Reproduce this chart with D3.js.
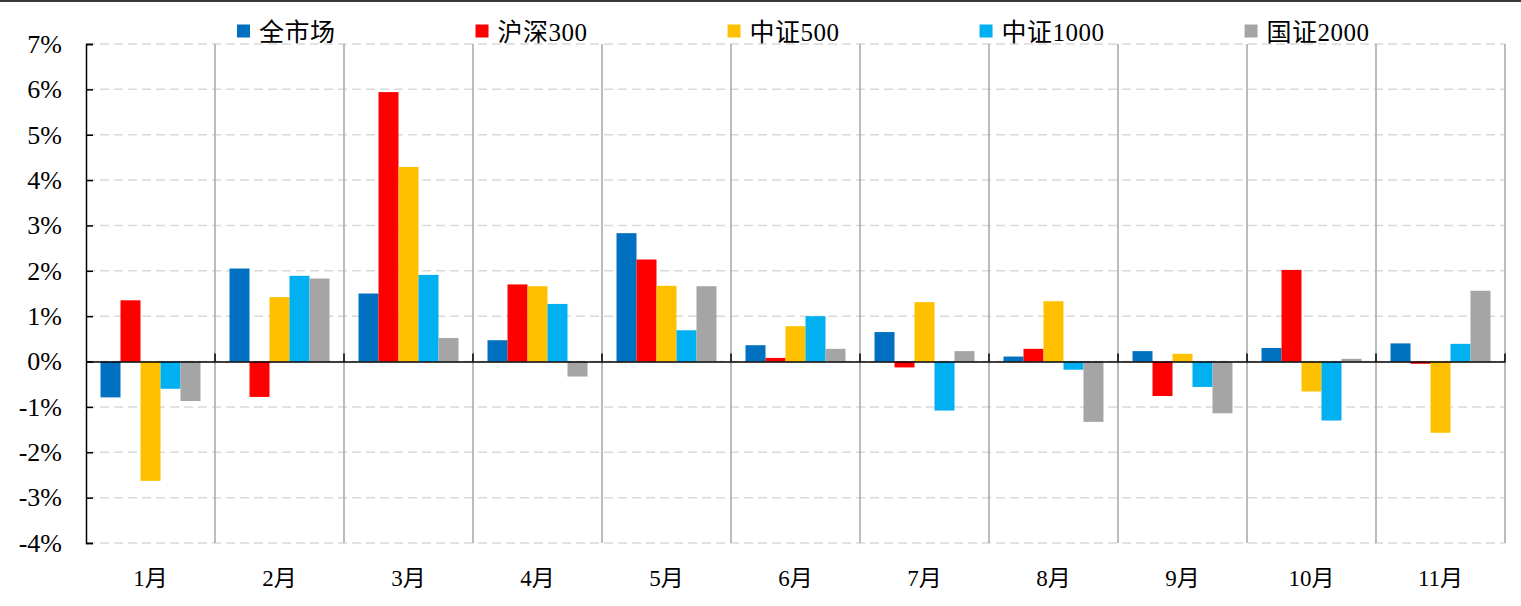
<!DOCTYPE html>
<html>
<head>
<meta charset="utf-8">
<script src="https://cdn.jsdelivr.net/npm/d3@7/dist/d3.min.js"></script>
<style>
html,body{margin:0;padding:0;background:#fff;}
svg{display:block;}
</style>
</head>
<body>
<svg id="chart" width="1521" height="606"></svg>
<script>
const months = ["1月","2月","3月","4月","5月","6月","7月","8月","9月","10月","11月"];
const seriesNames = ["全市场","沪深300","中证500","中证1000","国证2000"];
const seriesColors = ["#0070C0","#FF0000","#FFC000","#00B0F0","#A5A5A5"];
const allMarket = [-0.79, 2.05, 1.50, 0.47, 2.83, 0.36, 0.65, 0.11, 0.23, 0.30, 0.40];
const hs300     = [1.35, -0.78, 5.94, 1.70, 2.25, 0.08, -0.13, 0.28, -0.76, 2.02, -0.05];
const zz500     = [-2.63, 1.42, 4.29, 1.66, 1.67, 0.78, 1.31, 1.33, 0.17, -0.66, -1.57];
const zz1000    = [-0.60, 1.89, 1.91, 1.27, 0.69, 1.00, -1.08, -0.18, -0.56, -1.30, 0.39];
const gz2000    = [-0.87, 1.83, 0.52, -0.33, 1.66, 0.28, 0.23, -1.33, -1.14, 0.06, 1.56];
const yTicks = [-4,-3,-2,-1,0,1,2,3,4,5,6,7];

const seriesValues = [allMarket, hs300, zz500, zz1000, gz2000];

const svg = d3.select("#chart");
const W = 1521, H = 606;
const m = {left: 86, right: 16, top: 44, bottom: 63};
const plotW = W - m.left - m.right;
const yTop = m.top, yBot = H - m.bottom;

// top border line
svg.append("rect").attr("x",0).attr("y",0).attr("width",W).attr("height",2).attr("fill","#3a3a3a");

const x0 = d3.scaleBand().domain(months).range([m.left, m.left + plotW]).padding(0);
const bw = x0.bandwidth();
const groupW = bw * 0.775;
const x1 = d3.scaleBand().domain(seriesNames).range([(bw - groupW)/2, (bw + groupW)/2]).padding(0);
const y = d3.scaleLinear().domain([-4,7]).range([yBot, yTop]);

const serif = "'Liberation Serif','Times New Roman','Noto Sans CJK SC',serif";

// gridlines
svg.append("g").selectAll("line").data(yTicks).join("line")
  .attr("x1", m.left).attr("x2", m.left + plotW)
  .attr("y1", d => y(d)).attr("y2", d => y(d))
  .attr("stroke", "#d9d9d9").attr("stroke-width", 1.5).attr("stroke-dasharray", "9,5");

// category separators
const seps = months.map((d,i)=> x0(d) + bw);
svg.append("g").selectAll("line").data(seps).join("line")
  .attr("x1", d=>d).attr("x2", d=>d).attr("y1", yTop).attr("y2", yBot)
  .attr("stroke", "#a6a6a6").attr("stroke-width", 1.5);

// bars
const data = [];
months.forEach((mo,i)=>{
  seriesNames.forEach((s,j)=>{
    data.push({month: mo, series: s, value: seriesValues[j][i], color: seriesColors[j]});
  });
});
svg.append("g").selectAll("rect").data(data).join("rect")
  .attr("x", d => x0(d.month) + x1(d.series))
  .attr("width", x1.bandwidth())
  .attr("y", d => y(Math.max(0, d.value)))
  .attr("height", d => Math.abs(y(d.value) - y(0)))
  .attr("fill", d => d.color);

// y axis
const yAxis = d3.axisLeft(y).tickValues(yTicks).tickSize(-7).tickPadding(24).tickFormat(d => d + "%");
const gy = svg.append("g").attr("transform", `translate(${m.left},0)`).call(yAxis);
gy.select(".domain").attr("stroke","#000").attr("stroke-width",1.5);
gy.selectAll(".tick line").attr("stroke","#000").attr("stroke-width",1.5);
gy.selectAll(".tick text").attr("font-family", serif).attr("font-size", 26).attr("fill","#000");

// x axis at zero
const xAxis = d3.axisBottom(x0).tickSize(0).tickFormat("");
const gx = svg.append("g").attr("transform", `translate(0,${y(0)})`).call(xAxis);
gx.select(".domain").attr("stroke","#000").attr("stroke-width",1.5);
svg.append("g").selectAll("line").data(seps).join("line")
  .attr("x1", d=>d).attr("x2", d=>d).attr("y1", y(0)-8).attr("y2", y(0))
  .attr("stroke","#000").attr("stroke-width",1.5);

// x labels
svg.append("g").selectAll("text").data(months).join("text")
  .attr("x", d => x0(d) + bw/2).attr("y", 586)
  .attr("text-anchor","middle")
  .attr("font-family", serif).attr("font-size", 23).attr("fill","#000")
  .text(d=>d);

// legend: items flow left to right, each advanced by its text width
const lg = svg.append("g").selectAll("g").data(seriesNames).join("g");
lg.append("rect").attr("x",0).attr("y",-6.5).attr("width",13).attr("height",13)
  .attr("fill",(d,i)=>seriesColors[i]);
lg.append("text").attr("x",22).attr("y",1).attr("dominant-baseline","central")
  .attr("font-family", serif).attr("font-size", 25).attr("letter-spacing", 0.5).attr("fill","#000")
  .text(d=>d);
let lx = 237;
lg.each(function(){
  const g = d3.select(this);
  g.attr("transform", `translate(${lx},31)`);
  const tw = g.select("text").node().getComputedTextLength();
  lx += 22 + tw + 140;
});
</script>
</body>
</html>
